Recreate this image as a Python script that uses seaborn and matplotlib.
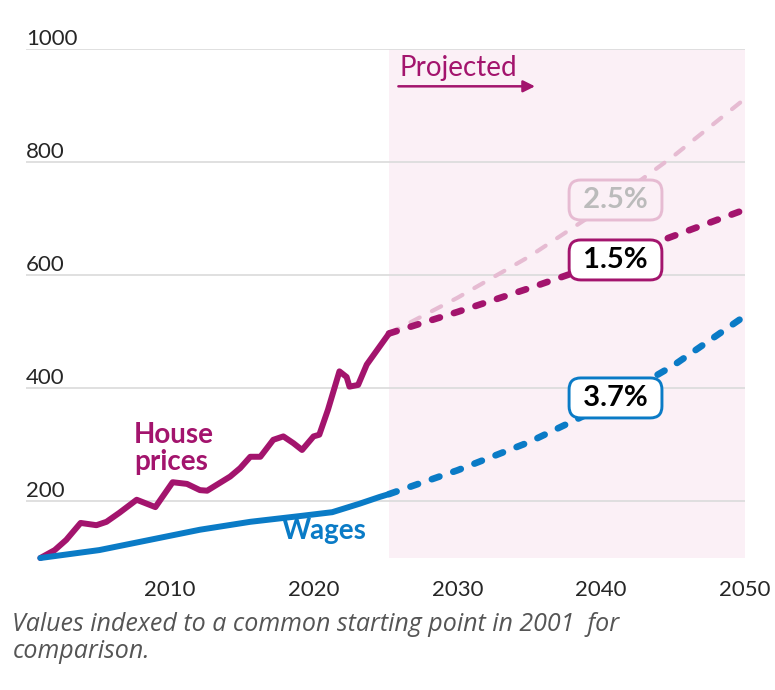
import matplotlib
matplotlib.use("Agg")
import matplotlib.pyplot as plt
import seaborn as sns

# historic series (index, 2001 = 100)
house_years = [2001.0, 2002.0, 2002.8, 2003.8, 2004.9, 2005.6, 2006.5, 2007.7, 2009.0,
               2010.2, 2011.2, 2012.1, 2012.6, 2014.2, 2014.9, 2015.6, 2016.3, 2017.2,
               2017.9, 2018.6, 2019.2, 2020.0, 2020.4, 2021.0, 2021.8, 2022.3, 2022.5,
               2023.1, 2023.7, 2024.6, 2025.25]
house_vals = [100, 114, 132, 162, 158, 164, 180, 203, 190,
              234, 231, 220, 219, 244, 259, 279, 279, 309,
              315, 303, 291, 315, 318, 362, 430, 420, 403,
              406, 442, 474, 497]

wage_years = [2001.0, 2005.1, 2008.6, 2012.1, 2015.6, 2019.0, 2021.3, 2023.2, 2024.6, 2025.25]
wage_vals = [100, 114, 132, 150, 164, 174, 181, 196, 208, 213]

# projections
proj_years = [2025.25, 2030, 2035, 2040, 2045, 2050]
house_15 = [497, 535, 577, 621, 669, 716]
house_25 = [497, 560, 633, 717, 810, 912]
wage_37 = [213, 255, 305, 366, 440, 528]
rate_labels = ["1.5%", "2.5%", "3.7%"]

projection_start = 2025.25
x_ticks = [2010, 2020, 2030, 2040, 2050]
y_ticks = [200, 400, 600, 800, 1000]

MAGENTA = "#A3146D"
BLUE = "#0A7BC6"
PINK = "#E6BBD2"
SHADE = "#FBF0F6"

sns.set_style("white")
plt.rcParams["font.family"] = ["Lato", "DejaVu Sans"]

fig = plt.figure(figsize=(7.75, 6.9), dpi=100)
ax = fig.add_axes([0.0335, 0.1913, 0.9277, 0.7377])
ax.set_xlim(2000, 2050)
ax.set_ylim(100, 1000)

ax.axvspan(projection_start, 2050, color=SHADE, lw=0, zorder=0)
ax.set_axisbelow(True)
ax.yaxis.grid(True, color="#DDDDDD", lw=1.3)
ax.xaxis.grid(False)
sns.despine(ax=ax, left=True, bottom=True)

sns.lineplot(x=proj_years, y=house_25, ax=ax, color=PINK, lw=3.0,
             linestyle=(0, (2.5, 3.3)), dash_capstyle="round", zorder=2)
sns.lineplot(x=proj_years, y=house_15, ax=ax, color=MAGENTA, lw=4.8,
             linestyle=(0, (1.2, 2.2)), dash_capstyle="round", zorder=3)
sns.lineplot(x=proj_years, y=wage_37, ax=ax, color=BLUE, lw=4.8,
             linestyle=(0, (1.2, 2.2)), dash_capstyle="round", zorder=3)
for yrs, vals, col in [(house_years, house_vals, MAGENTA), (wage_years, wage_vals, BLUE)]:
    sns.lineplot(x=yrs, y=vals, ax=ax, color=col, lw=4.3, clip_on=False,
                 solid_capstyle="round", solid_joinstyle="round", zorder=4)

ax.set_xticks(x_ticks, labels=[str(t) for t in x_ticks])
ax.set_yticks(y_ticks, labels=[str(t) for t in y_ticks], ha="left", va="bottom")
ax.tick_params(axis="x", length=0, pad=16, labelsize=16)
ax.tick_params(axis="y", length=0, pad=0, labelsize=16)
ax.set_xlabel("")
ax.set_ylabel("")

# rate badges
box_kw = dict(boxstyle="round,pad=0.24,rounding_size=0.4", lw=2.1)
badges = [(627, rate_labels[0], "black", "white", MAGENTA),
          (733, rate_labels[1], "#BBBBBB", SHADE, PINK),
          (383, rate_labels[2], "black", "white", BLUE)]
for yv, lab, tc, fc, ec in badges:
    ax.text(2041.0, yv, " " + lab + " ", fontsize=21, fontweight="bold", color=tc,
            ha="center", va="center", zorder=6, bbox=dict(fc=fc, ec=ec, **box_kw))

# series labels
ax.text(2007.5, 246, "House\nprices", fontsize=20, fontweight="bold", color=MAGENTA,
        ha="left", va="bottom", linespacing=1.05)
ax.text(2017.8, 124, "Wages", fontsize=20, fontweight="bold", color=BLUE,
        ha="left", va="bottom")

# projected marker
ax.text(2026.0, 952, "Projected", fontsize=20, color=MAGENTA, ha="left", va="baseline")
ax.annotate("", xy=(2035.4, 934), xytext=(2025.9, 934),
            arrowprops=dict(arrowstyle="-|>,head_length=0.7,head_width=0.35",
                            color=MAGENTA, lw=1.8, shrinkA=0, shrinkB=0))

fig.text(0.016, 1 - 612 / 690,
         "Values indexed to a common starting point in 2001  for\ncomparison.",
         fontsize=18, style="italic", color="#555555", ha="left", va="top",
         linespacing=1.1, family=["Open Sans", "DejaVu Sans"])

fig.savefig("out.png", dpi=100)
